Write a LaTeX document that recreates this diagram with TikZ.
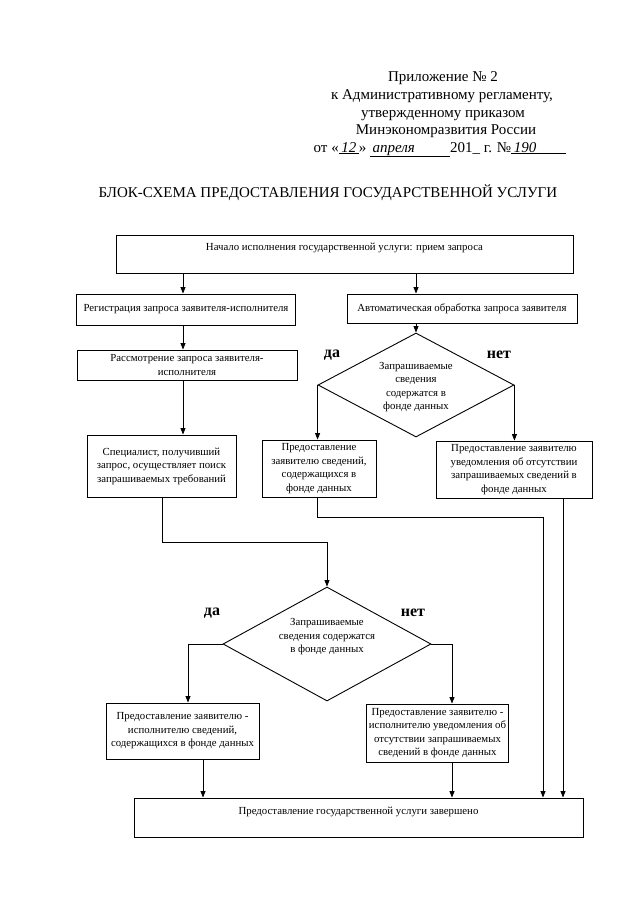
\documentclass[tikz,border=0pt]{standalone}
\usepackage{fontspec}
\setmainfont{Liberation Serif}
\usetikzlibrary{arrows.meta,shapes.geometric}
\begin{document}
\begin{tikzpicture}[x=1pt,y=-1pt,
  box/.style={draw,line width=0.9pt,inner sep=2pt,align=center,font=\fontsize{10.8}{13.5}\selectfont},
  txt/.style={inner sep=0pt,align=center,font=\fontsize{10.8}{13.5}\selectfont},
  dia/.style={draw,diamond,line width=0.9pt,inner sep=0pt},
  arr/.style={line width=0.9pt,-{Triangle[length=6.5pt,width=5pt]}},
  lbl/.style={font=\fontsize{16}{16}\selectfont\bfseries,inner sep=0pt},
  hdr/.style={font=\fontsize{15}{18}\selectfont,inner sep=0pt,anchor=base}]
\fill[white] (0,0) rectangle (640,905);
\useasboundingbox (0,0) rectangle (640,905);

% header
\node[hdr] (h1) at (443,81) {Приложение № 2};
\node[hdr] (h2) at (442,99) {к Административному регламенту,};
\node[hdr] (h3) at (443,117) {утвержденному приказом};
\node[hdr] (h4) at (446,134) {Минэкономразвития России};
\node[hdr] (h5) at (440,152) {от «\underline{\makebox[20pt]{\textit{12}}}» \underline{\makebox[80pt][l]{\textit{\,апреля}}}201\_ г. №\underline{\makebox[55pt][l]{\textit{\,190}}}};

% title
\node[hdr] (title) at (328,197) {БЛОК-СХЕМА ПРЕДОСТАВЛЕНИЯ ГОСУДАРСТВЕННОЙ УСЛУГИ};

% columns
\coordinate (cA) at (183,0);
\coordinate (cC) at (162,0);
\coordinate (cD) at (188,0);
\coordinate (cE) at (452,0);
\coordinate (cF) at (203,0);
\coordinate (cG) at (563,0);
\coordinate (m1) at (327,542);
\coordinate (m2) at (543,517);

% boxes
\node[box,minimum width=457pt,minimum height=38pt] (start) at (344.5,254) {};
\node[txt] (startt) at (344.5,248) {Начало исполнения государственной услуги: прием запроса};

\node[box,minimum width=219pt,minimum height=31pt] (reg) at (186,309.5) {Регистрация запроса заявителя-исполнителя};
\node[box,minimum width=230pt,minimum height=29pt] (auto) at (462,308.5) {Автоматическая обработка запроса заявителя};
\node[box,minimum width=220pt,minimum height=30pt] (ras) at (187,365) {Рассмотрение запроса заявителя-\\исполнителя};
\node[box,minimum width=149pt,minimum height=62pt] (spec) at (161.5,466) {Специалист, получивший\\запрос, осуществляет поиск\\запрашиваемых требований};

\node[dia,minimum width=196pt,minimum height=104pt] (d1) at (416,385) {};
\node[txt] (d1t) at (416,387) {Запрашиваемые\\сведения\\содержатся в\\фонде данных};
\node[lbl] (yes1l) at (332,355) {да};
\node[lbl] (no1l) at (499,355) {нет};

\node[box,minimum width=114pt,minimum height=57pt] (yes1) at (319,468.5) {Предоставление\\заявителю сведений,\\содержащихся в\\фонде данных};
\node[box,minimum width=156pt,minimum height=57pt] (no1) at (514,469.5) {Предоставление заявителю\\уведомления об отсутствии\\запрашиваемых сведений в\\фонде данных};

\node[dia,minimum width=208pt,minimum height=114pt] (d2) at (327,644) {};
\node[txt] (d2t) at (327,637) {Запрашиваемые\\сведения содержатся\\в фонде данных};
\node[lbl] (yes2l) at (212,613) {да};
\node[lbl] (no2l) at (413,613) {нет};

\node[box,minimum width=153pt,minimum height=56pt] (yes2) at (182.5,731) {Предоставление заявителю -\\исполнителю сведений,\\содержащихся в фонде данных};
\node[box,minimum width=141pt,minimum height=58pt] (no2) at (437.5,733) {Предоставление заявителю -\\исполнителю уведомления об\\отсутствии запрашиваемых\\сведений в фонде данных};

\node[box,minimum width=449pt,minimum height=39pt] (end) at (358.5,817.5) {};
\node[txt] (endt) at (358.5,812) {Предоставление государственной услуги завершено};

% connectors
\draw[arr] (start.south -| cA) -- (reg.north -| cA);
\draw[arr] (start.south -| d1.north) -- (auto.north -| d1.north);
\draw[arr] (reg.south -| cA) -- (ras.north -| cA);
\draw[arr] (ras.south -| cA) -- (spec.north -| cA);
\draw[arr] (auto.south -| d1.north) -- (d1.north);
\draw[arr] (d1.west) -- (yes1.north -| d1.west);
\draw[arr] (d1.east) -- (no1.north -| d1.east);
\draw[arr] (spec.south -| cC) |- (m1) -- (d2.north);
\draw[arr] (d2.west) -| (yes2.north -| cD);
\draw[arr] (d2.east) -| (no2.north -| cE);
\draw[arr] (yes2.south -| cF) -- (end.north -| cF);
\draw[arr] (no2.south -| cE) -- (end.north -| cE);
\draw[arr] (yes1.south -| d1.west) |- (m2) -- (end.north -| m2);
\draw[arr] (no1.south -| cG) -- (end.north -| cG);
\end{tikzpicture}
\end{document}
